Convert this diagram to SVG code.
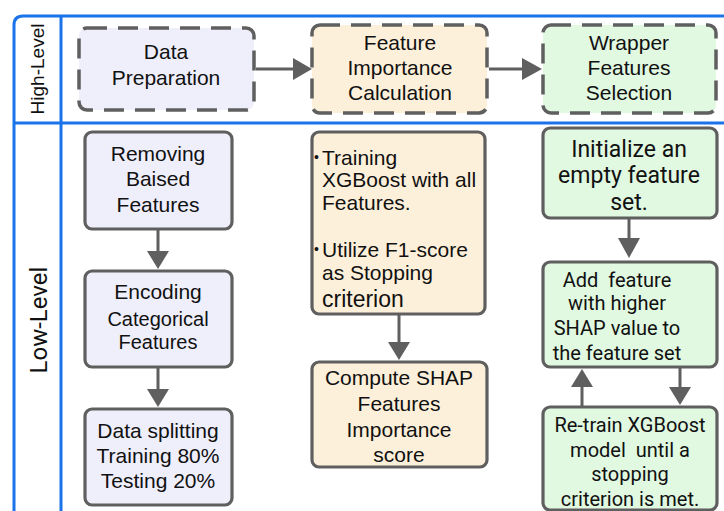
<svg xmlns="http://www.w3.org/2000/svg" width="724" height="511" viewBox="0 0 724 511">
<style>
.frame{fill:none;stroke:#1a73e8;stroke-width:3}
.dash{stroke:#5f5f5f;stroke-width:3.5;stroke-dasharray:20 11}
.solid{stroke:#5f5f5f;stroke-width:3.2}
.blue{fill:#efeffc}
.cream{fill:#fdf0da}
.green{fill:#e1f8e1}
.t{font-family:"Liberation Sans",Arial,sans-serif;font-size:21px;fill:#111;text-anchor:middle}
.r{font-family:Roboto,"Liberation Sans",sans-serif;fill:#111;text-anchor:middle}
.lft{text-anchor:start}
.ln{stroke:#5f5f5f;stroke-width:3;fill:none}
.hd{fill:#5f5f5f}
</style>
<rect width="724" height="511" fill="#ffffff"/>
<g id="frame">
<path class="frame" d="M14,520 V25 Q14,16 23,16 H730"/>
<line class="frame" x1="61" y1="16" x2="61" y2="520"/>
<line class="frame" x1="14" y1="123" x2="730" y2="123"/>
<text class="t" transform="translate(44,69) rotate(-90)" style="font-size:19px">High-Level</text>
<text class="r" transform="translate(47,320) rotate(-90)" style="font-size:24px">Low-Level</text>
</g>
<g id="connectors">
<line class="ln" x1="256" y1="69" x2="295" y2="69"/><polygon class="hd" points="293,58 312,69 293,80"/>
<line class="ln" x1="489" y1="69" x2="524" y2="69"/><polygon class="hd" points="522,58 542,69 522,80"/>
<line class="ln" x1="158" y1="229" x2="158" y2="253"/><polygon class="hd" points="147,251 169,251 158,269"/>
<line class="ln" x1="158" y1="367" x2="158" y2="391"/><polygon class="hd" points="147,389 169,389 158,407"/>
<line class="ln" x1="399" y1="314" x2="399" y2="344"/><polygon class="hd" points="388,342 410,342 399,360"/>
<line class="ln" x1="629" y1="218" x2="629" y2="240"/><polygon class="hd" points="618,238 640,238 629,258"/>
<line class="ln" x1="582" y1="407" x2="582" y2="385"/><polygon class="hd" points="571,387 593,387 582,369"/>
<line class="ln" x1="680" y1="367" x2="680" y2="389"/><polygon class="hd" points="669,387 691,387 680,405"/>
</g>
<g id="data-preparation">
<rect class="blue dash" x="79" y="28" width="175" height="82" rx="8"/>
<text class="t" x="166" y="59">Data</text>
<text class="t" x="166" y="85">Preparation</text>
</g>
<g id="feature-importance">
<rect class="cream dash" x="312" y="25" width="175" height="88" rx="8"/>
<text class="t" x="400" y="50">Feature</text>
<text class="t" x="400" y="75">Importance</text>
<text class="t" x="400" y="100">Calculation</text>
</g>
<g id="wrapper">
<rect class="green dash" x="543" y="25" width="173" height="88" rx="8"/>
<text class="t" x="629" y="50">Wrapper</text>
<text class="t" x="629" y="75">Features</text>
<text class="t" x="629" y="100">Selection</text>
</g>
<g id="removing">
<rect class="blue solid" x="85" y="132" width="147" height="97" rx="7"/>
<text class="t" x="158" y="161">Removing</text>
<text class="t" x="158" y="186">Baised</text>
<text class="t" x="158" y="212">Features</text>
</g>
<g id="encoding">
<rect class="blue solid" x="85" y="271" width="147" height="96" rx="7"/>
<text class="t" x="158" y="299">Encoding</text>
<text class="t" x="158" y="326" style="font-size:20px">Categorical</text>
<text class="t" x="158" y="349" style="font-size:20px">Features</text>
</g>
<g id="splitting">
<rect class="blue solid" x="85" y="409" width="147" height="96" rx="7"/>
<text class="t" x="158" y="438">Data splitting</text>
<text class="t" x="158" y="463">Training 80%</text>
<text class="t" x="158" y="488">Testing 20%</text>
</g>
<g id="training">
<rect class="cream solid" x="312" y="132" width="173" height="182" rx="7"/>
<text class="t lft" x="314" y="162" style="font-size:14px">•</text>
<text class="t lft" x="322" y="165">Training</text>
<text class="t lft" x="322" y="187">XGBoost with all</text>
<text class="t lft" x="322" y="210">Features.</text>
<text class="t lft" x="314" y="254" style="font-size:14px">•</text>
<text class="t lft" x="322" y="257">Utilize F1-score</text>
<text class="t lft" x="322" y="280">as Stopping</text>
<text class="t lft" x="322" y="307" style="font-size:23px">criterion</text>
</g>
<g id="compute-shap">
<rect class="cream solid" x="312" y="362" width="175" height="105" rx="7"/>
<text class="t" x="399" y="385">Compute SHAP</text>
<text class="t" x="399" y="411">Features</text>
<text class="t" x="399" y="437">Importance</text>
<text class="t" x="399" y="462">score</text>
</g>
<g id="initialize">
<rect class="green solid" x="543" y="128" width="174" height="90" rx="7"/>
<text class="r" x="629" y="157" style="font-size:23px">Initialize an</text>
<text class="r" x="629" y="183" style="font-size:23px">empty feature</text>
<text class="r" x="629" y="210" style="font-size:23px">set.</text>
</g>
<g id="add-feature">
<rect class="green solid" x="543" y="262" width="174" height="105" rx="7"/>
<text class="r" x="617" y="287" style="font-size:20px" xml:space="preserve">Add  feature</text>
<text class="r" x="617" y="310" style="font-size:20px">with higher</text>
<text class="r" x="617" y="335" style="font-size:20px">SHAP value to</text>
<text class="r" x="617" y="360" style="font-size:20px">the feature set</text>
</g>
<g id="retrain">
<rect class="green solid" x="543" y="407" width="174" height="103" rx="7"/>
<text class="r" x="630" y="432" style="font-size:20px">Re-train XGBoost</text>
<text class="r" x="630" y="457" style="font-size:20px" xml:space="preserve">model  until a</text>
<text class="r" x="630" y="481" style="font-size:20px">stopping</text>
<text class="r" x="630" y="506" style="font-size:20px">criterion is met.</text>
</g>
</svg>
